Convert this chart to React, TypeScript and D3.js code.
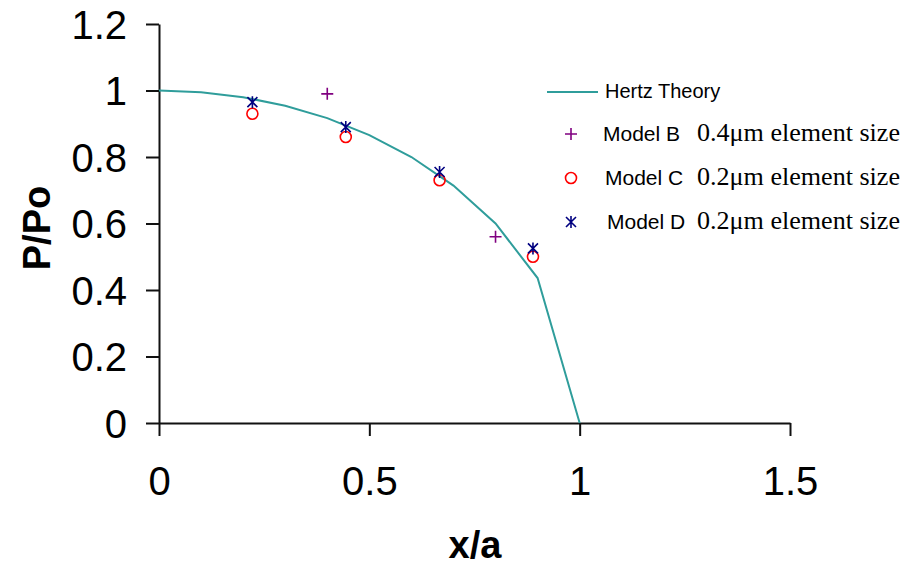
import React, { useEffect, useRef } from 'react';
import * as d3 from 'd3';

// Hertz theory curve (P/Po against x/a)
const hertzX = [0, 0.1, 0.2, 0.3, 0.4, 0.5, 0.6, 0.7, 0.8, 0.9, 1.0];
const hertzY = [1, 0.995, 0.98, 0.954, 0.917, 0.866, 0.8, 0.714, 0.6, 0.436, 0];

// FE models
const modelBX = [0.4, 0.8];
const modelBY = [0.99, 0.56];
const modelCX = [0.222, 0.444, 0.667, 0.889];
const modelCY = [0.93, 0.86, 0.73, 0.5];
const modelDX = [0.222, 0.444, 0.667, 0.889];
const modelDY = [0.965, 0.89, 0.755, 0.525];

const xTicks = [0, 0.5, 1, 1.5];
const xTickLabels = ['0', '0.5', '1', '1.5'];
const yTicks = [0, 0.2, 0.4, 0.6, 0.8, 1, 1.2];
const yTickLabels = ['0', '0.2', '0.4', '0.6', '0.8', '1', '1.2'];

const legendNames = ['Model B', 'Model C', 'Model D'];
const legendSizes = ['0.4\u03bcm element size', '0.2\u03bcm element size', '0.2\u03bcm element size'];

const TEAL = '#2f9d9b';
const PURPLE = '#800080';
const RED = '#ff0000';
const NAVY = '#000080';

export default function App() {
  const ref = useRef<SVGSVGElement>(null);

  useEffect(() => {
    const node = d3.select(ref.current);
    node.selectAll('*').remove();

    const x = d3.scaleLinear().domain([0, 1.5]).range([159, 790]);
    const y = d3.scaleLinear().domain([0, 1.2]).range([423, 24]);

    // y axis
    const gy = node.append('g').attr('transform', 'translate(159,0)')
      .call(d3.axisLeft(y).tickValues(yTicks).tickSize(13).tickSizeOuter(0)
        .tickFormat((d, i) => yTickLabels[i]));
    gy.select('.domain').attr('stroke', '#111').attr('stroke-width', 2);
    gy.selectAll('.tick line').attr('stroke', '#111').attr('stroke-width', 2);
    gy.selectAll('.tick text')
      .attr('x', -32).attr('dy', '0.35em')
      .attr('font-family', 'Arial, Liberation Sans, sans-serif')
      .attr('font-size', 40).attr('fill', '#000');

    // x axis
    const gx = node.append('g').attr('transform', 'translate(0,423)')
      .call(d3.axisBottom(x).tickValues(xTicks).tickSize(13).tickSizeOuter(0)
        .tickFormat((d, i) => xTickLabels[i]));
    gx.select('.domain').attr('stroke', '#111').attr('stroke-width', 2);
    gx.selectAll('.tick line').attr('stroke', '#111').attr('stroke-width', 2);
    gx.selectAll('.tick text')
      .attr('y', 72).attr('dy', 0)
      .attr('font-family', 'Arial, Liberation Sans, sans-serif')
      .attr('font-size', 40).attr('fill', '#000');

    // axis titles
    node.append('text')
      .attr('x', 475).attr('y', 558)
      .attr('text-anchor', 'middle')
      .attr('font-family', 'Arial, Liberation Sans, sans-serif')
      .attr('font-weight', 'bold').attr('font-size', 38)
      .text('x/a');
    node.append('text')
      .attr('transform', 'translate(50,228) rotate(-90)')
      .attr('text-anchor', 'middle')
      .attr('font-family', 'Arial, Liberation Sans, sans-serif')
      .attr('font-weight', 'bold').attr('font-size', 38)
      .text('P/Po');

    // Hertz curve
    const line = d3.line<number>()
      .x((d, i) => x(hertzX[i]))
      .y(d => y(d));
    node.append('path')
      .datum(hertzY)
      .attr('fill', 'none')
      .attr('stroke', TEAL)
      .attr('stroke-width', 2)
      .attr('d', line);

    const plus = (g, cx, cy) => {
      g.append('path')
        .attr('d', `M${cx - 6},${cy}H${cx + 6}M${cx},${cy - 6}V${cy + 6}`)
        .attr('stroke', PURPLE).attr('stroke-width', 1.6).attr('fill', 'none');
    };
    const ring = (g, cx, cy) => {
      g.append('circle').attr('cx', cx).attr('cy', cy).attr('r', 5.5)
        .attr('fill', 'none').attr('stroke', RED).attr('stroke-width', 1.6);
    };
    const star = (g, cx, cy) => {
      g.append('path')
        .attr('d', `M${cx - 5},${cy - 5}L${cx + 5},${cy + 5}M${cx - 5},${cy + 5}L${cx + 5},${cy - 5}M${cx},${cy - 6}V${cy + 6}`)
        .attr('stroke', NAVY).attr('stroke-width', 1.6).attr('fill', 'none');
    };

    const marks = node.append('g');
    modelCX.forEach((v, i) => ring(marks, x(v), y(modelCY[i])));
    modelDX.forEach((v, i) => star(marks, x(v), y(modelDY[i])));
    modelBX.forEach((v, i) => plus(marks, x(v), y(modelBY[i])));

    // legend
    const lg = node.append('g');
    lg.append('line').attr('x1', 547).attr('x2', 598).attr('y1', 92).attr('y2', 92)
      .attr('stroke', TEAL).attr('stroke-width', 2);
    lg.append('text').attr('x', 605).attr('y', 98)
      .attr('font-family', 'Arial, Liberation Sans, sans-serif').attr('font-size', 20)
      .text('Hertz Theory');

    const rowsY = [134, 178, 222];
    const markers = [plus, ring, star];
    const nameX = [603, 605, 607];
    rowsY.forEach((ry, i) => {
      markers[i](lg, 571, ry);
      lg.append('text').attr('x', nameX[i]).attr('y', ry + 7)
        .attr('font-family', 'Arial, Liberation Sans, sans-serif').attr('font-size', 21)
        .text(legendNames[i]);
      lg.append('text').attr('x', 697).attr('y', ry + 7)
        .attr('font-family', 'Times New Roman, Liberation Serif, serif').attr('font-size', 26)
        .attr('textLength', 203).attr('lengthAdjust', 'spacingAndGlyphs')
        .text(legendSizes[i]);
    });
  }, []);

  return (
    <svg ref={ref} width={907} height={566}
      style={{ position: 'absolute', left: 0, top: 0, background: '#fff' }} />
  );
}
